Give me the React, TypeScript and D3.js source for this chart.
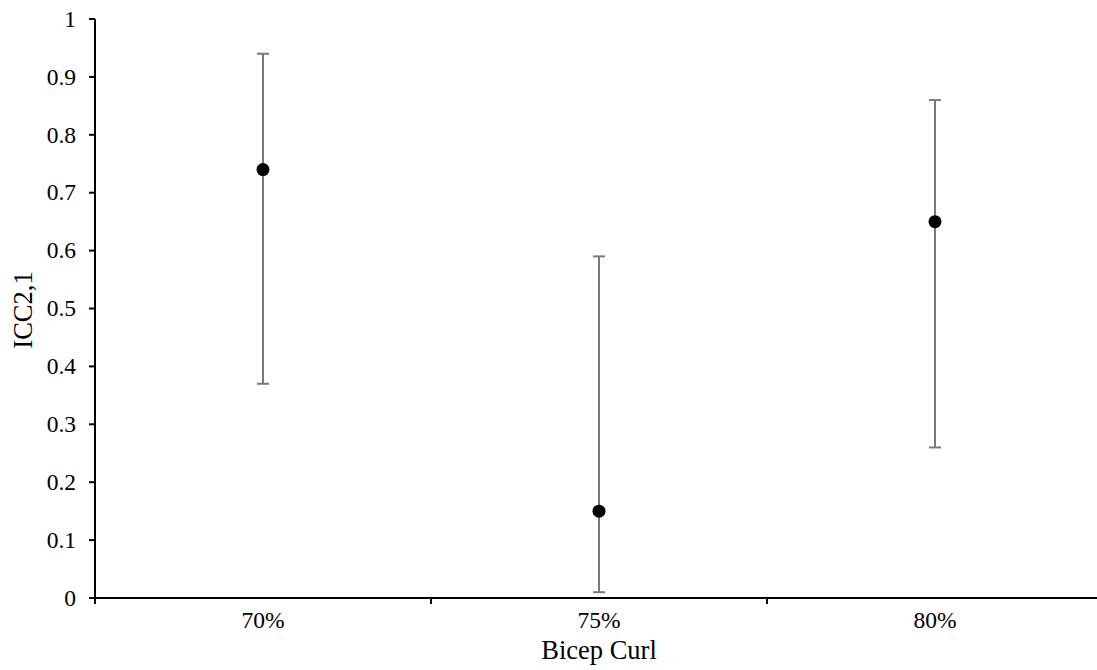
import React from "react";
import * as d3 from "d3";

const categories = ["70%", "75%", "80%"];
const icc = [0.74, 0.15, 0.65];
const lower = [0.37, 0.01, 0.26];
const upper = [0.94, 0.59, 0.86];
const yTicks = [0, 0.1, 0.2, 0.3, 0.4, 0.5, 0.6, 0.7, 0.8, 0.9, 1];

export default function App() {
  const W = 1097, H = 670;
  const x0 = 95, y0 = 598, yTop = 19;
  const x = d3.scaleBand<string>().domain(categories).range([x0, x0 + 1008]).padding(0);
  const y = d3.scaleLinear().domain([0, 1]).range([y0, yTop]);
  const font = "Liberation Serif";
  const barColor = "#7a7a7a";
  const bw = x.bandwidth();
  const boundaries = d3.range(categories.length + 1).map((i) => x0 + i * bw);
  return (
    <svg width={W} height={H} style={{ position: "absolute", left: 0, top: 0 }}>
      <rect width={W} height={H} fill="#fff" />
      {/* y axis */}
      <line x1={x0} x2={x0} y1={yTop} y2={y0 + 1} stroke="#000" strokeWidth={2} />
      {yTicks.map((t) => (
        <g key={t}>
          <line x1={x0 - 6} x2={x0} y1={y(t)} y2={y(t)} stroke="#000" strokeWidth={2} />
          <text x={76} y={y(t)} dy="0.33em" textAnchor="end" style={{ fontFamily: font, fontSize: 23.5 }}>
            {d3.format("")(t)}
          </text>
        </g>
      ))}
      {/* x axis */}
      <line x1={x0 - 6} x2={W} y1={y0} y2={y0} stroke="#000" strokeWidth={2} />
      {boundaries.map((b, i) => (
        <line key={i} x1={b} x2={b} y1={y0} y2={y0 + 6} stroke="#000" strokeWidth={2} />
      ))}
      {categories.map((c) => (
        <text key={c} x={(x(c) as number) + bw / 2} y={628} textAnchor="middle" style={{ fontFamily: font, fontSize: 23.5 }}>
          {c}
        </text>
      ))}
      {/* error bars and points */}
      {categories.map((c, i) => {
        const cx = (x(c) as number) + bw / 2;
        return (
          <g key={c}>
            <line x1={cx} x2={cx} y1={y(lower[i])} y2={y(upper[i])} stroke={barColor} strokeWidth={2} />
            <line x1={cx - 6} x2={cx + 6} y1={y(lower[i])} y2={y(lower[i])} stroke={barColor} strokeWidth={2} />
            <line x1={cx - 6} x2={cx + 6} y1={y(upper[i])} y2={y(upper[i])} stroke={barColor} strokeWidth={2} />
            <circle cx={cx} cy={y(icc[i])} r={6.5} fill="#000" />
          </g>
        );
      })}
      {/* axis titles */}
      <text x={(x0 + 1103) / 2} y={659} textAnchor="middle" style={{ fontFamily: font, fontSize: 26.5 }}>
        Bicep Curl
      </text>
      <text
        transform={`translate(32, 310) rotate(-90)`}
        textAnchor="middle"
        style={{ fontFamily: font, fontSize: 26.5 }}
      >
        ICC2,1
      </text>
    </svg>
  );
}
